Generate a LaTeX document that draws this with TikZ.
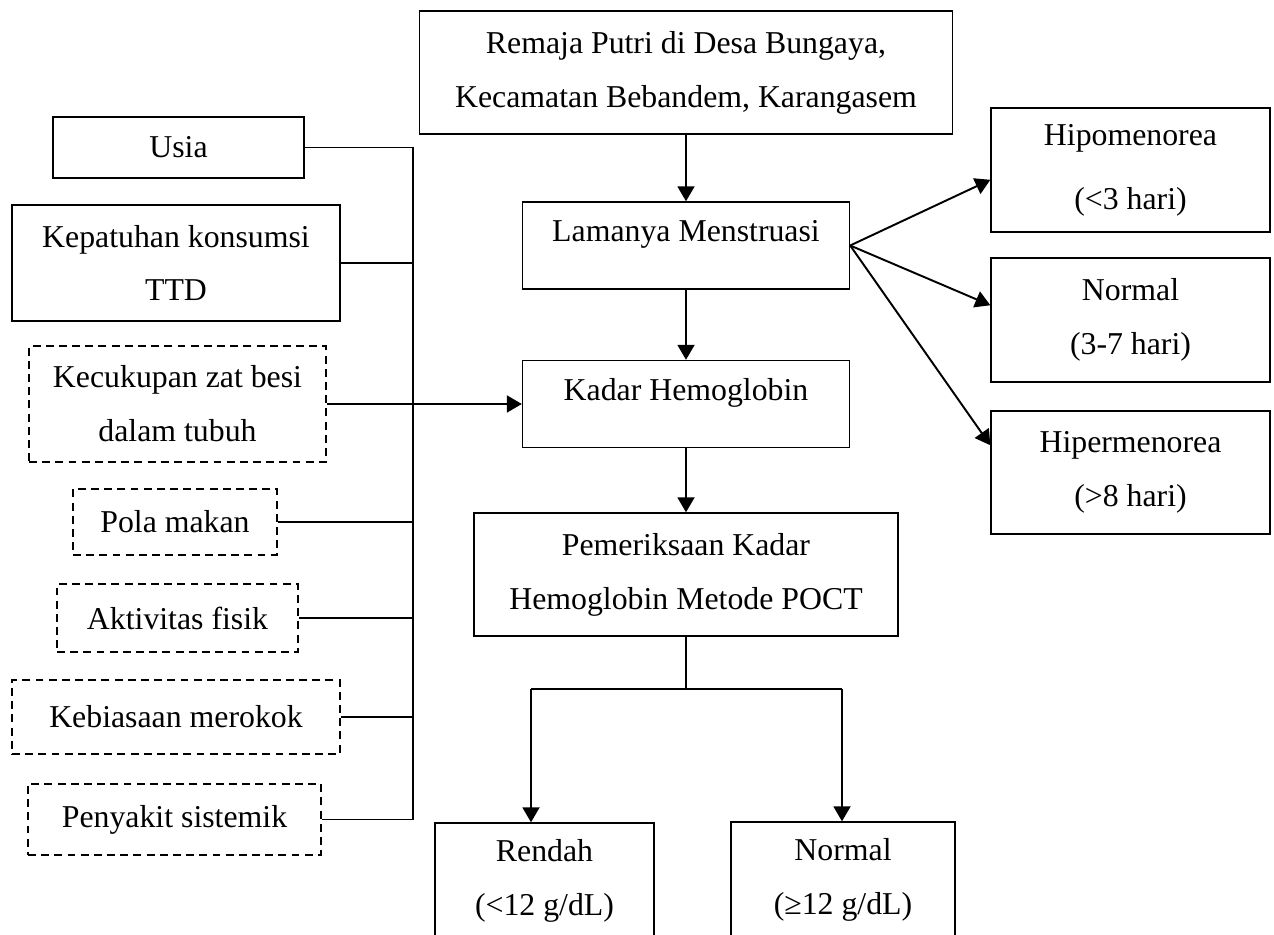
\documentclass[tikz,border=0pt]{standalone}
\usepackage{fontspec}
\setmainfont{Liberation Serif}
\usetikzlibrary{arrows.meta, positioning}

\begin{document}
\begin{tikzpicture}[x=0.02cm, y=-0.02cm,
    font=\fontsize{18.1}{30.7}\selectfont,
    box/.style = {draw, line width=0.8pt, inner sep=0pt, align=center},
    dbox/.style = {box, line width=0.95pt, dash pattern=on 4.5pt off 3pt},
    toptext/.style = {box, text height=0.8cm, text depth=0.94cm},
    link/.style = {line width=0.75pt},
    arr/.style = {line width=1.1pt, -{Triangle[length=0.3cm, width=0.34cm]}}]
    % \draw [help lines] (0,0) grid[step=50] (1274,935);
    \useasboundingbox (0,0) rectangle (1274,935);
    \clip (0,0) rectangle (1274,935);

    \node (top) [box, minimum width=10.66cm, minimum height=2.46cm] at (686,72.5)
        {Remaja Putri di Desa Bungaya,\\Kecamatan Bebandem, Karangasem};
    \node (lam) [toptext, minimum width=6.54cm] at (686,245.5) {Lamanya Menstruasi};
    \node (kadar) [toptext, minimum width=6.54cm] at (686,404) {Kadar Hemoglobin};
    \node (poct) [box, minimum width=8.48cm, minimum height=2.46cm] at (686,574.5)
        {Pemeriksaan Kadar\\Hemoglobin Metode POCT};
    \node (low) [box, minimum width=4.38cm, minimum height=2.3cm] at (544.5,880.5)
        {Rendah\\(<12 g/dL)};
    \node (hbnorm) [box, minimum width=4.48cm, minimum height=2.32cm] at (843,880)
        {Normal\\(≥12 g/dL)};

    \node (hipo) [box, minimum width=5.58cm, minimum height=2.48cm] at (1130.5,170)
        {Hipomenorea\\[0.2cm](<3 hari)};
    \node (mnorm) [box, minimum width=5.58cm, minimum height=2.48cm] at (1130.5,320)
        {Normal\\(3-7 hari)};
    \node (hiper) [box, minimum width=5.58cm, minimum height=2.46cm] at (1130.5,472.5)
        {Hipermenorea\\(>8 hari)};

    \node (usia) [box, minimum width=5.02cm, minimum height=1.22cm] at (178.5,147.5) {Usia};
    \node (ttd) [box, minimum width=6.56cm, minimum height=2.32cm] at (176,263)
        {Kepatuhan konsumsi\\TTD};
    \node (besi) [dbox, minimum width=5.94cm, minimum height=2.32cm] at (177.5,404)
        {Kecukupan zat besi\\dalam tubuh};
    \node (pola) [dbox, minimum width=4.08cm, minimum height=1.32cm] at (175,522) {Pola makan};
    \node (fisik) [dbox, minimum width=4.82cm, minimum height=1.36cm] at (177.5,618) {Aktivitas fisik};
    \node (rokok) [dbox, minimum width=6.56cm, minimum height=1.48cm] at (176,717) {Kebiasaan merokok};
    \node (sakit) [dbox, minimum width=5.86cm, minimum height=1.42cm] at (174.5,819.5) {Penyakit sistemik};

    % factors joined on one bus line
    \coordinate (bus) at (413,149);
    \draw [link] (usia.east) -| (bus |- sakit.east) -- (sakit.east);
    \draw [link] (ttd.east) -- (ttd.east -| bus);
    \draw [link] (pola.east) -- (pola.east -| bus);
    \draw [link] (fisik.east) -- (fisik.east -| bus);
    \draw [link] (rokok.east) -- (rokok.east -| bus);

    % split below POCT
    \coordinate (splitl) at (531,689);
    \coordinate (splitr) at (842,689);
    \draw [link] (poct.south) -- (poct.south |- splitl);
    \draw [line width=1.1pt] (splitl) -- (splitr);

    \path [arr]
        (top) edge (lam)
        (lam) edge (kadar)
        (kadar) edge (poct)
        (besi.east) edge (kadar.west)
        (lam.east) edge (hipo.184)
        (lam.east) edge (mnorm.174)
        (lam.east) edge (hiper.169)
        (splitl) edge (splitl |- low.north)
        (splitr) edge (splitr |- hbnorm.north);
\end{tikzpicture}
\end{document}
